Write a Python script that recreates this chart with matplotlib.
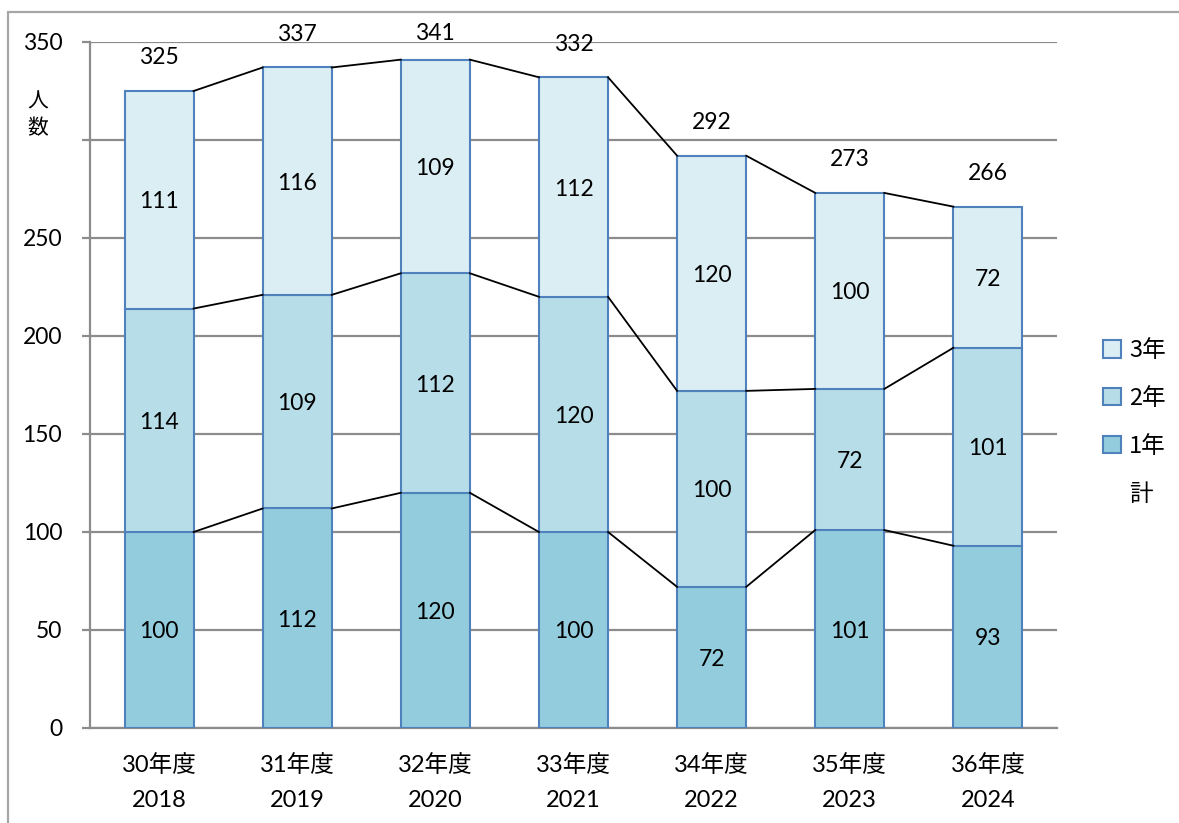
import matplotlib
matplotlib.use("Agg")
import matplotlib.pyplot as plt
from matplotlib.patches import Rectangle, Patch
import numpy as np

plt.rcParams['font.family'] = ['Lato', 'Noto Sans CJK JP', 'DejaVu Sans']

categories = ["30年度\n2018", "31年度\n2019", "32年度\n2020", "33年度\n2021",
              "34年度\n2022", "35年度\n2023", "36年度\n2024"]
grade1 = [100, 112, 120, 100, 72, 101, 93]
grade2 = [114, 109, 112, 120, 100, 72, 101]
grade3 = [111, 116, 109, 112, 120, 100, 72]
totals = [325, 337, 341, 332, 292, 273, 266]
series_names = ["1年", "2年", "3年"]
y_ticks = [0, 50, 100, 150, 200, 250, 300, 350]
y_tick_labels = ["0", "50", "100", "150", "200", "250", "", "350"]

colors = ["#93CDDD", "#B7DEE8", "#DBEEF4"]
edge = "#4F81BD"

W, H = 1179, 823
fig = plt.figure(figsize=(W / 100, H / 100), dpi=100)
ax = fig.add_axes([90 / W, 1 - 728 / H, (1057 - 90) / W, (728 - 42) / H])

x = np.arange(len(categories))
bw = 0.5
series = [grade1, grade2, grade3]
bottom = np.zeros(len(categories))
for vals, col, name in zip(series, colors, series_names):
    vals = np.array(vals)
    ax.bar(x, vals, bw, bottom=bottom, color=col, edgecolor=edge, linewidth=1.5,
           zorder=3, label=name)
    for xi, b, v in zip(x, bottom, vals):
        ax.annotate(str(v), (xi, b + v / 2), xytext=(0, -2), textcoords='offset pixels',
                    ha='center', va='center', fontsize=16.5, color='black', zorder=5)
    tops = bottom + vals
    for i in range(len(x) - 1):
        ax.plot([x[i] + bw / 2, x[i + 1] - bw / 2], [tops[i], tops[i + 1]],
                color='black', linewidth=1.3, zorder=4)
    bottom = tops

ax.set_xlim(-0.5, len(categories) - 0.5)
ax.set_ylim(0, 350)

# total labels: ~33 px above the bar top, but kept no higher than ~34 px from the top of the figure
for xi, t in zip(x, totals):
    px_top = ax.transData.transform((xi, t))[1]
    max_px = H - 34
    off = min(33, max_px - px_top)
    ax.annotate(str(t), (xi, t), xytext=(0, off), textcoords='offset pixels',
                ha='center', va='center', fontsize=16.5, color='black')

ax.set_yticks(y_ticks)
ax.set_yticklabels(y_tick_labels, fontsize=16.5)
ax.set_xticks(x)
ax.set_xticklabels(categories, fontsize=17, linespacing=1.8,
                   family=['Lato', 'Noto Sans CJK JP'])
ax.tick_params(axis='x', length=0, pad=19)
ax.tick_params(axis='y', length=6, color='#8C8C8C', width=1.6, pad=14)
ax.grid(axis='y', color='#8C8C8C', linewidth=1.6, zorder=0)
ax.set_axisbelow(True)
for s in ['top', 'right']:
    ax.spines[s].set_visible(False)
for s in ['left', 'bottom']:
    ax.spines[s].set_color('#8C8C8C')
    ax.spines[s].set_linewidth(1.6)

fig.text(38 / W, 1 - 102 / H, "人", ha='center', va='center', fontsize=15,
         family=['Noto Sans CJK JP'])
fig.text(38 / W, 1 - 128 / H, "数", ha='center', va='center', fontsize=15,
         family=['Noto Sans CJK JP'])

handles = [Patch(facecolor=colors[2], edgecolor=edge, linewidth=1.5),
           Patch(facecolor=colors[1], edgecolor=edge, linewidth=1.5),
           Patch(facecolor=colors[0], edgecolor=edge, linewidth=1.5),
           Patch(facecolor='none', edgecolor='none')]
labels = [series_names[2], series_names[1], series_names[0], "計"]
leg = fig.legend(handles, labels, loc='upper left',
                 bbox_to_anchor=(1082 / W, 1 - 318 / H), frameon=False,
                 handlelength=0.75, handleheight=0.75, handletextpad=0.35,
                 labelspacing=1.05, prop={'family': ['Noto Sans CJK JP'], 'size': 17})

fig.patches.append(Rectangle((8 / W, -0.1), 1.2, 1 - 12 / H + 0.1,
                             transform=fig.transFigure, fill=False,
                             edgecolor='#A6A6A6', linewidth=1.6))

fig.savefig("out.png", dpi=100)
